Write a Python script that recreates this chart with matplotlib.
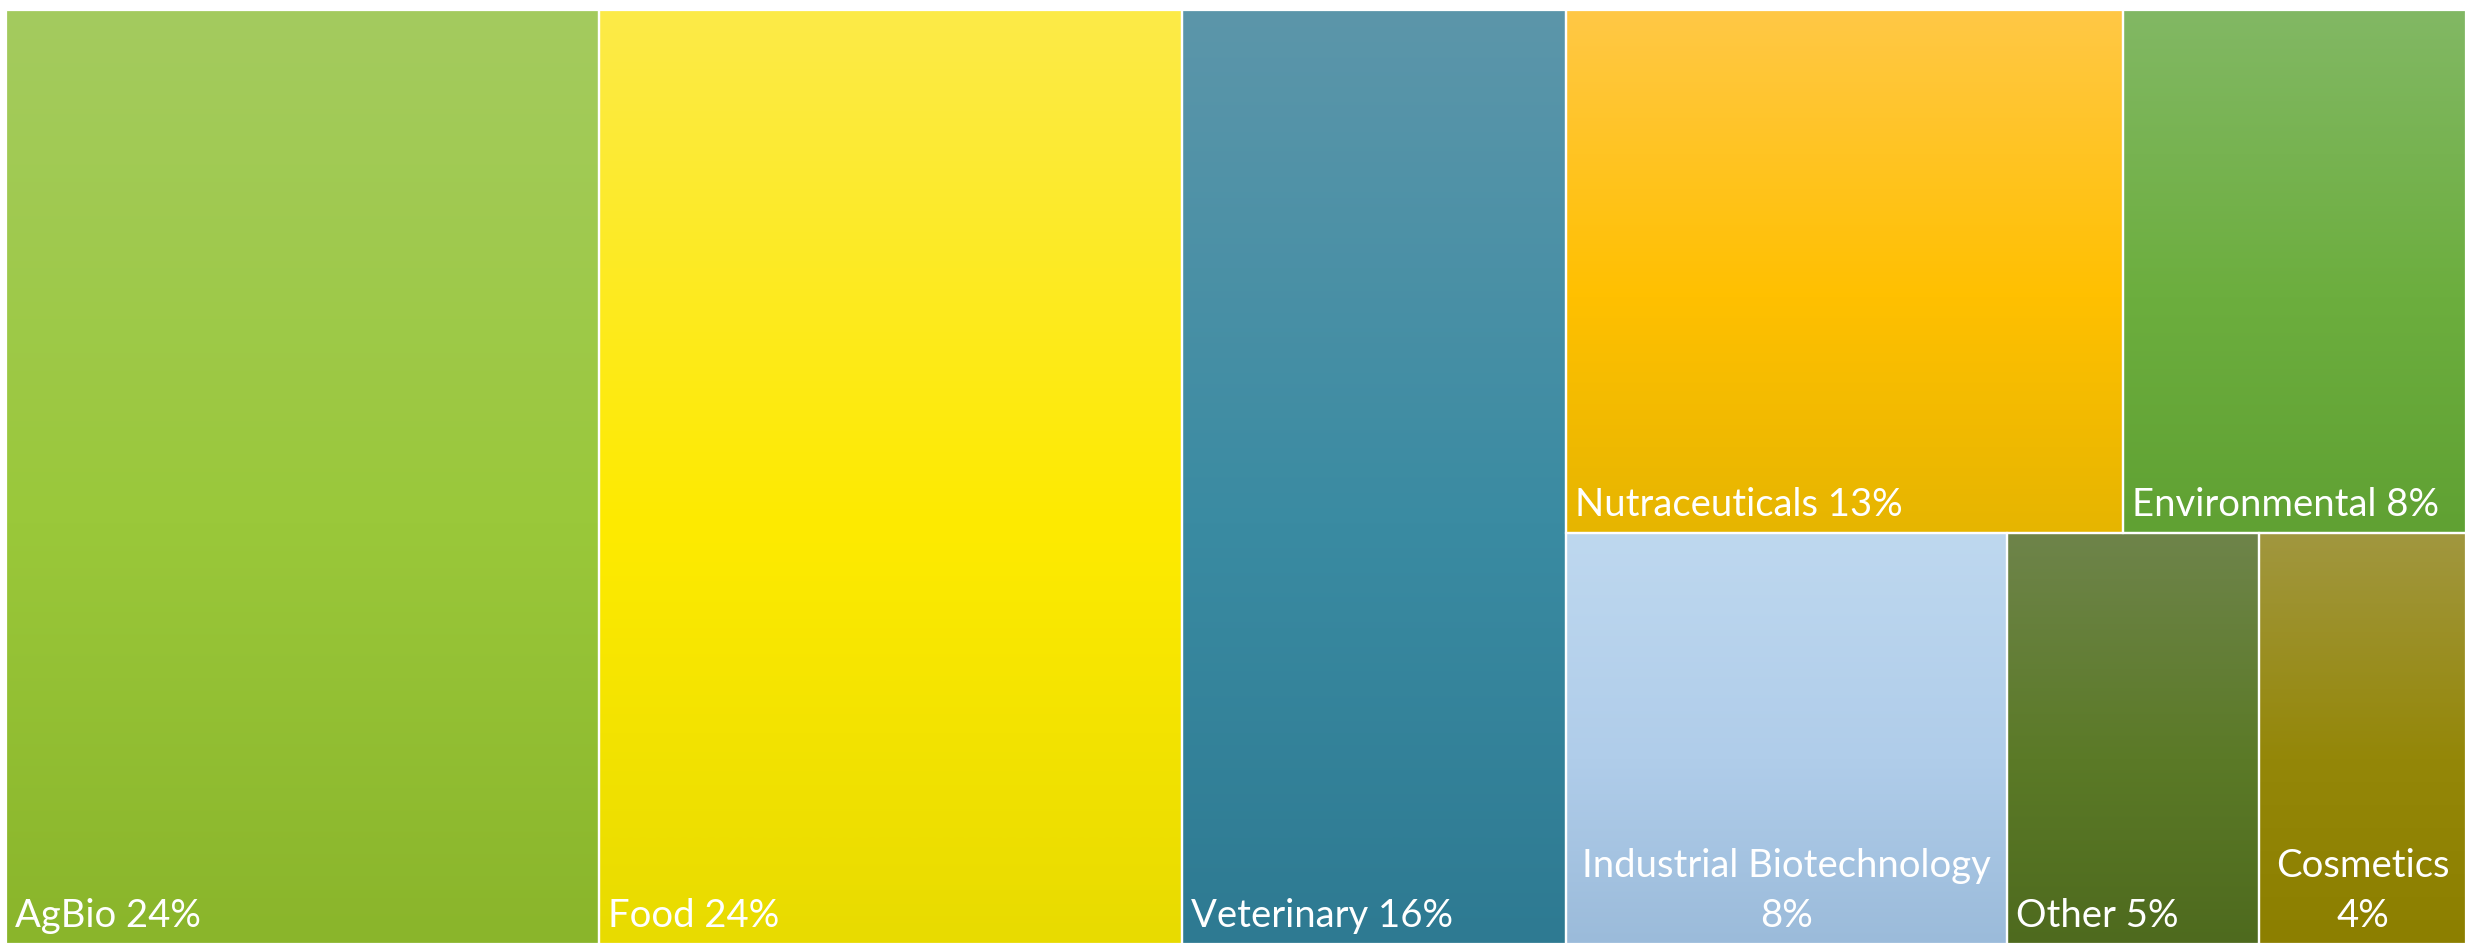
import matplotlib
matplotlib.use("Agg")
import matplotlib.pyplot as plt
from matplotlib.patches import Rectangle
from matplotlib.colors import to_rgb
import numpy as np

# ---- data ----
categories = ["AgBio", "Food", "Veterinary", "Nutraceuticals", "Environmental",
              "Industrial Biotechnology", "Other", "Cosmetics"]
values = [24.1, 23.7, 15.6, 12.7, 7.8, 7.9, 4.5, 3.7]
pct_labels = ["24%", "24%", "16%", "13%", "8%", "8%", "5%", "4%"]
wrap_label = [False, False, False, False, False, True, False, True]

# gradient colours (top, middle, bottom)
top_colors = ["#A4CB5F", "#FCEA48", "#5C96AA", "#FFC846", "#82B864", "#BED8EF", "#6E844A", "#A1973F"]
mid_colors = ["#9AC83A", "#FEEB00", "#3A8BA2", "#FFC000", "#6CAE3E", "#B0CDEA", "#5B7A27", "#948708"]
bot_colors = ["#8AB52B", "#E8DB00", "#2E7A92", "#E6B500", "#60A133", "#9BBBDA", "#4E6A1E", "#8C7F00"]

# layout groups: three full-height columns, then a block of two rows
columns = [[0], [1], [2], [[3, 4], [5, 6, 7]]]

FW, FH = 2466, 944
fig = plt.figure(figsize=(FW / 100, FH / 100), dpi=100)
fig.patch.set_facecolor("white")
AX_L, AX_T = 6, 10
W, H = FW - AX_L, FH - AX_T
ax = fig.add_axes([AX_L / FW, 0, W / FW, H / FH])
ax.set_axis_off()

total = sum(values)
rects = {}
x = 0.0
for col in columns:
    if isinstance(col[0], list):
        col_sum = sum(values[i] for row in col for i in row)
        cw = W * col_sum / total
        y = 0.0
        for row in col:
            row_sum = sum(values[i] for i in row)
            rh = H * row_sum / col_sum
            xx = x
            for i in row:
                w = cw * values[i] / row_sum
                rects[i] = (xx, y, w, rh)
                xx += w
            y += rh
    else:
        i = col[0]
        cw = W * values[i] / total
        rects[i] = (x, 0.0, cw, H)
    x += cw


def gradient(top, mid, bot, n=256, midpos=0.55):
    t = np.linspace(0, 1, n)
    top, mid, bot = map(np.array, (to_rgb(top), to_rgb(mid), to_rgb(bot)))
    out = np.zeros((n, 1, 3))
    for k, tv in enumerate(t):
        if tv <= midpos:
            f = tv / midpos
            out[k, 0] = top * (1 - f) + mid * f
        else:
            f = (tv - midpos) / (1 - midpos)
            out[k, 0] = mid * (1 - f) + bot * f
    return out


font = "Lato"
fs = 27.5
line_h = 50
pad_l = 9
pad_b = 17

for i in range(len(categories)):
    x0, y0, w, h = rects[i]
    g = gradient(top_colors[i], mid_colors[i], bot_colors[i])
    ax.imshow(g, extent=(x0, x0 + w, y0 + h, y0), aspect="auto",
              interpolation="bilinear", origin="upper", zorder=1)
    ax.add_patch(Rectangle((x0, y0), w, h, facecolor="none", edgecolor="white",
                           linewidth=1.6, zorder=2))
    if wrap_label[i]:
        lines = [categories[i], pct_labels[i]]
        for k, line in enumerate(reversed(lines)):
            ax.text(x0 + w / 2, y0 + h - pad_b - k * line_h, line, ha="center",
                    va="baseline", color="white", fontsize=fs, family=font, zorder=3)
    else:
        ax.text(x0 + pad_l, y0 + h - pad_b, f"{categories[i]} {pct_labels[i]}",
                ha="left", va="baseline", color="white", fontsize=fs,
                family=font, zorder=3)

ax.set_xlim(0, W)
ax.set_ylim(H, 0)

fig.savefig("out.png", dpi=100, facecolor="white")
